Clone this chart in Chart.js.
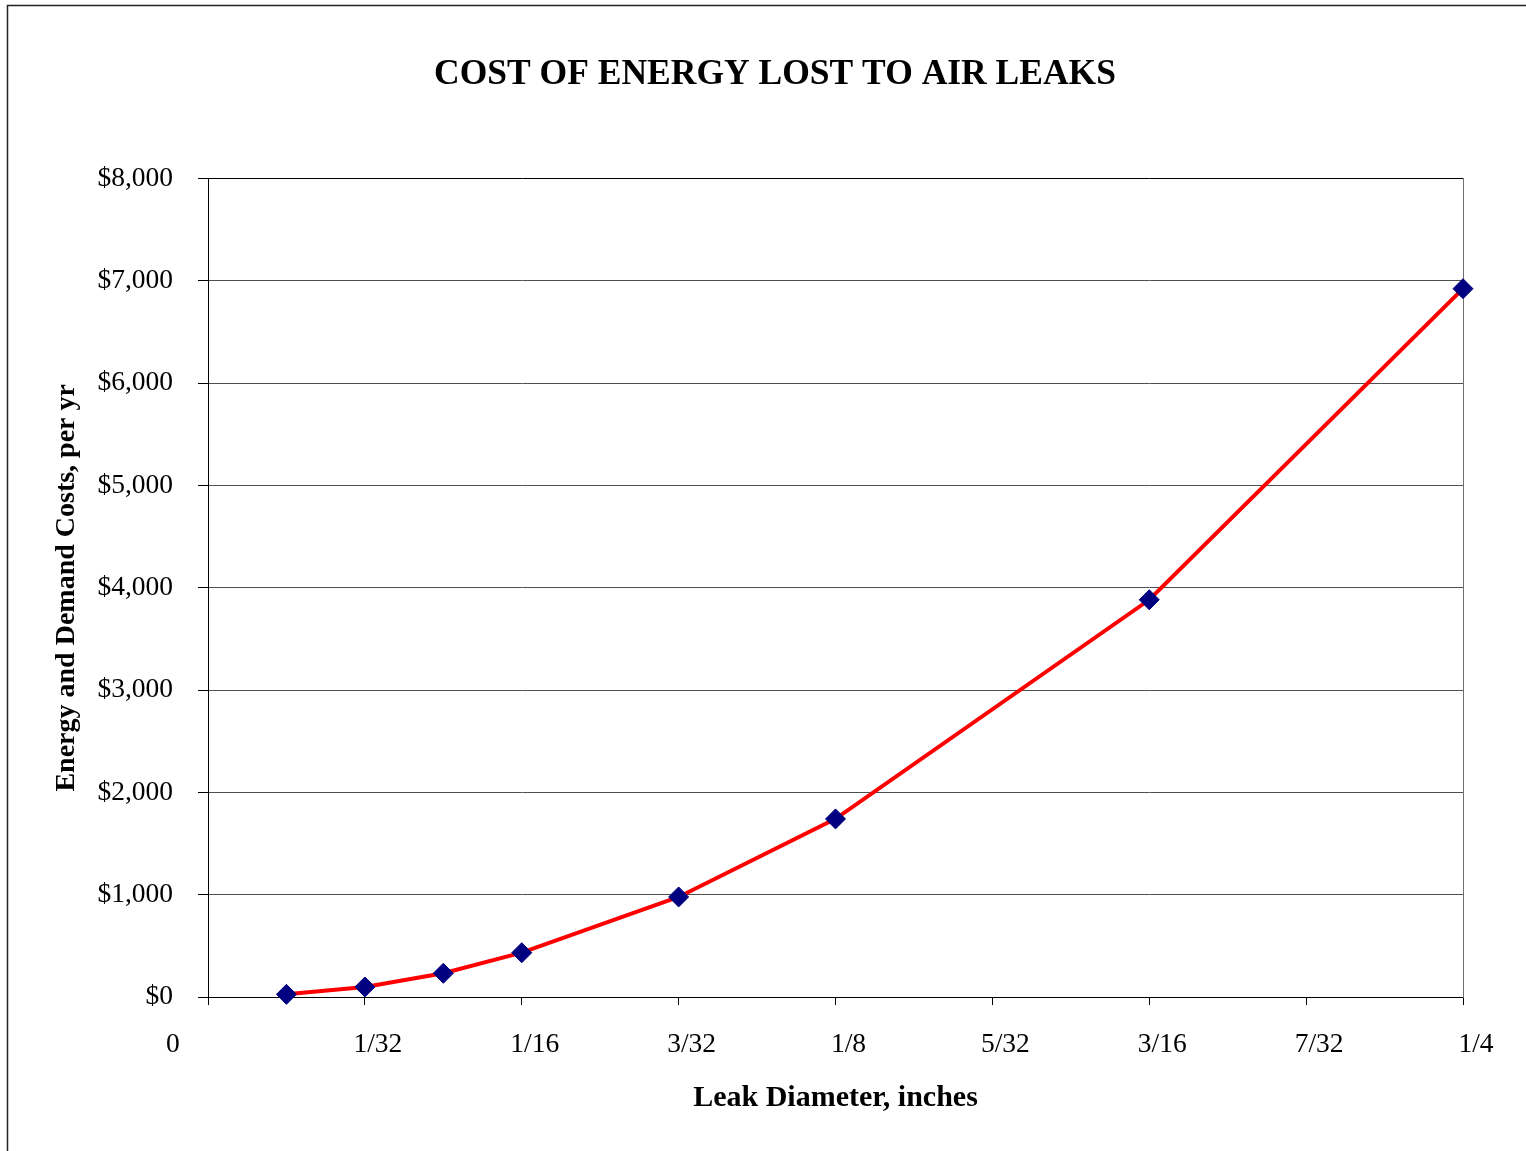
<!DOCTYPE html>
<html>
<head>
<meta charset="utf-8">
<title>Cost of energy lost to air leaks</title>
<script src="https://cdn.jsdelivr.net/npm/chart.js@4"></script>
<style>
  html, body { margin: 0; padding: 0; background: #fff; overflow: hidden; }
  #leakChart { display: block; }
</style>
</head>
<body>
<canvas id="leakChart" width="1526" height="1151"></canvas>
<script>
// leak diameters in inches and yearly cost
const leakDiameters = [1/64, 1/32, 3/64, 1/16, 3/32, 1/8, 3/16, 1/4];
const yearlyCosts = [26, 98, 232, 433, 978, 1741, 3883, 6924];

const xTickLabels = ["0", "1/32", "1/16", "3/32", "1/8", "5/32", "3/16", "7/32", "1/4"];
const xStep = 1 / 32;
const yMax = 8000;
const yStep = 1000;

const serif = "'Liberation Serif', 'Times New Roman', serif";

// thin frame round the whole figure, like the Excel chart area
const frameLines = {
  id: "frameLines",
  beforeDraw(chart) {
    const c = chart.ctx;
    c.save();
    c.fillStyle = "#fff";
    c.fillRect(0, 0, chart.width, chart.height);
    c.strokeStyle = "#222";
    c.lineWidth = 1.5;
    c.beginPath();
    c.moveTo(7.5, chart.height);
    c.lineTo(7.5, 5.5);
    c.lineTo(chart.width, 5.5);
    c.stroke();
    c.restore();
  }
};

const ctx = document.getElementById("leakChart").getContext("2d");
const chart = new Chart(ctx, {
  type: "line",
  data: {
    datasets: [{
      label: "Cost",
      data: leakDiameters.map((d, i) => ({ x: d, y: yearlyCosts[i] })),
      borderColor: "#ff0000",
      borderWidth: 4,
      tension: 0,
      pointStyle: "rectRot",
      pointRadius: 10,
      pointBackgroundColor: "#000080",
      pointBorderColor: "#000080",
      pointBorderWidth: 1,
      clip: false
    }]
  },
  options: {
    responsive: false,
    animation: false,
    devicePixelRatio: 1,
    layout: { padding: { top: 10, left: 24, right: 0, bottom: 0 } },
    plugins: {
      legend: { display: false },
      tooltip: { enabled: false },
      title: {
        display: true,
        text: "COST OF ENERGY LOST TO AIR LEAKS",
        color: "#000",
        font: { family: serif, size: 35.5, weight: "bold" },
        padding: { top: 44, bottom: 82 }
      }
    },
    scales: {
      x: {
        type: "linear",
        min: 0,
        max: 0.25,
        afterFit: s => { s.height = 154; },
        border: { color: "#000", width: 1 },
        grid: { drawOnChartArea: false, tickLength: 8, tickColor: "#000" },
        ticks: {
          stepSize: xStep,
          autoSkip: false,
          maxRotation: 0,
          labelOffset: 13,
          padding: 23,
          color: "#000",
          font: { family: serif, size: 27.5 },
          callback: v => {
            const lbl = xTickLabels[Math.round(v / xStep)];
            // the zero label sits left of the axis in the original
            return v === 0 ? lbl + " ".repeat(14) : lbl;
          }
        },
        title: {
          display: true,
          text: "Leak Diameter, inches",
          color: "#000",
          font: { family: serif, size: 30, weight: "bold" },
          padding: { top: 0, bottom: 35 }
        }
      },
      y: {
        min: 0,
        max: yMax,
        afterFit: s => { s.width = 184; },
        border: { color: "#000", width: 1 },
        grid: {
          color: c => c.tick && c.tick.value === yMax ? "#000" : "#505050",
          tickLength: 10,
          tickColor: "#000"
        },
        ticks: {
          stepSize: yStep,
          padding: 25,
          color: "#000",
          font: { family: serif, size: 27.5 },
          callback: v => "$" + v.toLocaleString("en-US")
        },
        title: {
          display: true,
          text: "Energy and Demand Costs, per yr",
          color: "#000",
          font: { family: serif, size: 28, weight: "bold" },
          padding: { top: 26, bottom: 0 }
        }
      },
      yRight: {
        position: "right",
        min: 0,
        max: yMax,
        afterFit: s => { s.width = 63; },
        border: { color: "#707070", width: 1 },
        grid: { drawOnChartArea: false, drawTicks: false },
        ticks: { display: false }
      }
    }
  },
  plugins: [frameLines]
});
</script>
</body>
</html>
